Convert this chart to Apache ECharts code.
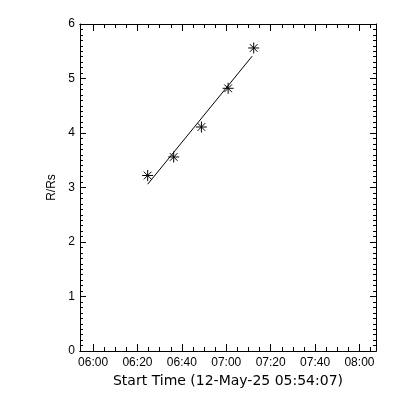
<!DOCTYPE html>
<html>
<head>
<meta charset="utf-8">
<script src="https://cdn.jsdelivr.net/npm/echarts@6/dist/echarts.min.js"></script>
<style>html,body{margin:0;padding:0;background:#fff}#c{width:400px;height:400px}</style>
</head>
<body>
<div id="c"></div>
<script>
// ---- data ----
const startTime = "05:54:07";
const axisSpanSeconds = 8000;
const pointTimes = ["06:24:36", "06:36:19", "06:48:48", "07:00:50", "07:12:22"];
const pointValues = [3.22, 3.56, 4.11, 4.82, 5.56];
const fitTimes = ["06:24:36", "07:11:40"];
const fitValues = [3.06, 5.41];
const xTickLabels = ["06:00", "06:20", "06:40", "07:00", "07:20", "07:40", "08:00"];
const xMinorTickLabels = ["06:05", "06:10", "06:15", "06:25", "06:30", "06:35", "06:45", "06:50", "06:55",
  "07:05", "07:10", "07:15", "07:25", "07:30", "07:35", "07:45", "07:50", "07:55", "08:05"];
const yMin = 0, yMax = 6, yStep = 1;
const xTitle = "Start Time (12-May-25 05:54:07)";
const yTitle = "R/Rs";

function toSec(s) {
  const p = s.split(":").map(Number);
  return p[0] * 3600 + p[1] * 60 + (p[2] || 0);
}
function fmt(v) {
  const h = Math.floor(v / 3600), m = Math.round((v - h * 3600) / 60);
  return String(h).padStart(2, "0") + ":" + String(m).padStart(2, "0");
}
const xMin = toSec(startTime), xMax = xMin + axisSpanSeconds;
const majorVals = xTickLabels.map(toSec);
const minorVals = xMinorTickLabels.map(toSec);

const font = { fontFamily: "Liberation Sans", fontSize: 12, color: "#000" };
const titleFont = { fontFamily: "DejaVu Sans", fontSize: 14, color: "#000" };
const lineStyle = { color: "#000", width: 1 };

function xAx(pos, vals, len, labels) {
  return {
    type: "value", position: pos, min: xMin, max: xMax,
    axisLine: { show: true, onZero: false, lineStyle },
    axisTick: { show: true, inside: true, length: len, customValues: vals, lineStyle },
    axisLabel: labels ? Object.assign({ show: true, margin: 6, customValues: vals, formatter: fmt }, font) : { show: false },
    splitLine: { show: false },
    name: labels ? xTitle : "", nameLocation: "middle", nameGap: 23,
    nameTextStyle: titleFont
  };
}
function yAx(pos, labels) {
  return {
    type: "value", position: pos, min: yMin, max: yMax, interval: yStep,
    axisLine: { show: true, onZero: false, lineStyle },
    axisTick: { show: true, inside: true, length: 6, lineStyle },
    minorTick: { show: true, splitNumber: 10, length: 3, lineStyle },
    axisLabel: labels ? Object.assign({ show: true, margin: 5 }, font) : { show: false },
    splitLine: { show: false },
    name: labels ? yTitle : "", nameLocation: "middle", nameGap: 21, nameRotate: 90,
    nameTextStyle: font
  };
}

const chart = echarts.init(document.getElementById("c"), null, { renderer: "canvas" });
chart.setOption({
  animation: false,
  backgroundColor: "#fff",
  grid: { left: 80, right: 24, top: 24, bottom: 49, containLabel: false },
  xAxis: [
    xAx("bottom", majorVals, 7, true),
    xAx("bottom", minorVals, 4, false),
    xAx("top", majorVals, 7, false),
    xAx("top", minorVals, 4, false)
  ],
  yAxis: [yAx("left", true), yAx("right", false)],
  series: [
    {
      type: "line", xAxisIndex: 0, yAxisIndex: 0,
      data: fitTimes.map((t, i) => [toSec(t), fitValues[i]]),
      symbol: "none", lineStyle: { color: "#000", width: 1 }, silent: true
    },
    {
      type: "scatter", xAxisIndex: 0, yAxisIndex: 0,
      data: pointTimes.map((t, i) => [toSec(t), pointValues[i]]),
      symbol: "path://M0,5L10,5M5,0L5,10M1.5,1.5L8.5,8.5M8.5,1.5L1.5,8.5",
      symbolSize: 11,
      itemStyle: { color: "none", borderColor: "#000", borderWidth: 1, opacity: 1 }
    }
  ]
});
</script>
</body>
</html>
